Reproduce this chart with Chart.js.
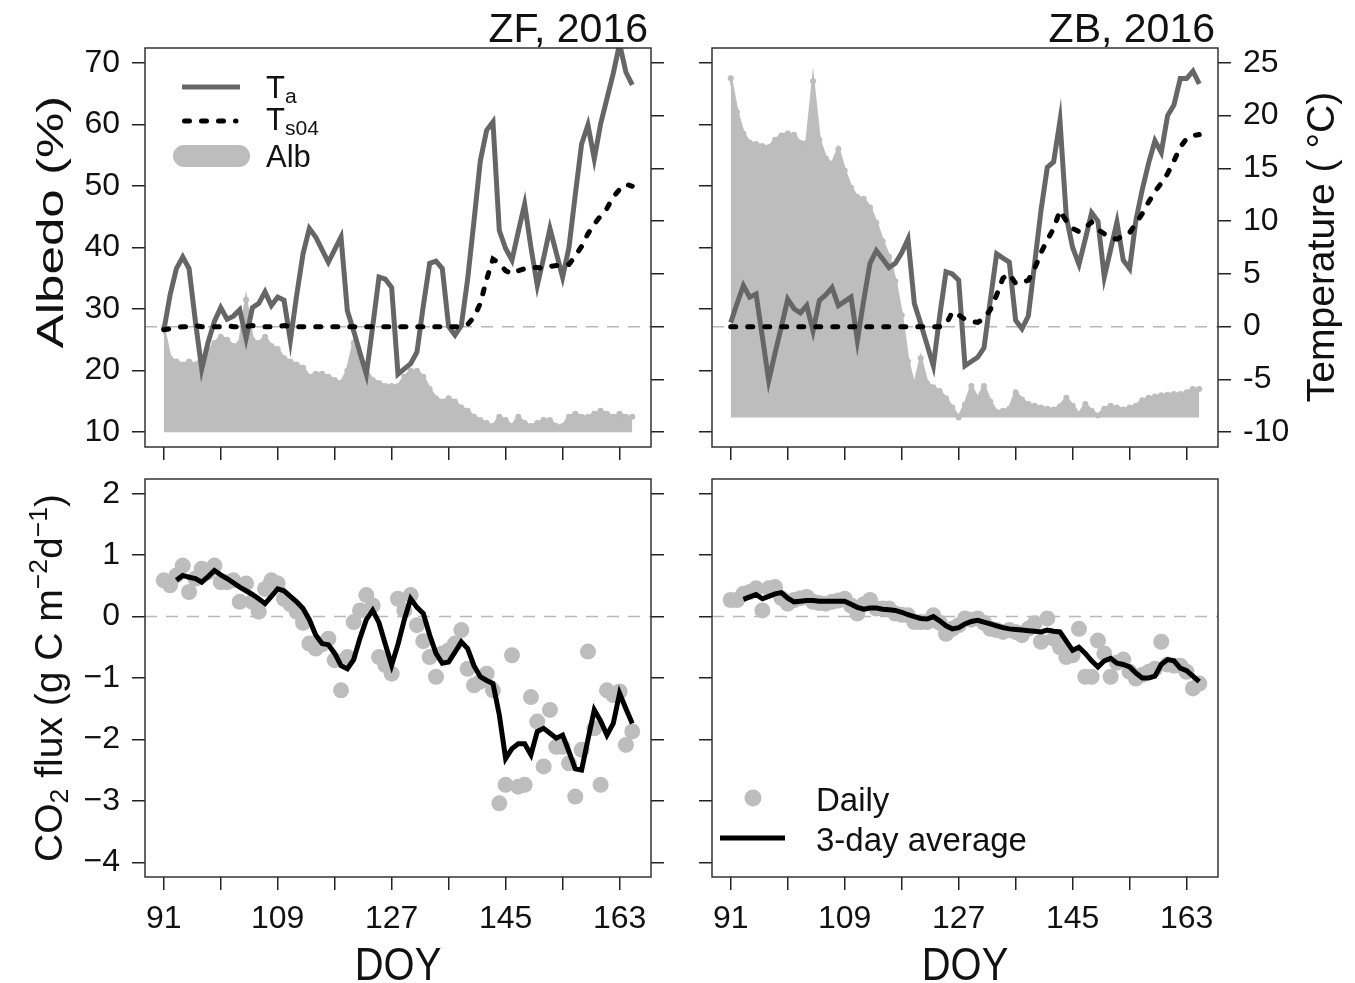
<!DOCTYPE html>
<html>
<head>
<meta charset="utf-8">
<title>ZF / ZB 2016</title>
<script src="https://cdn.jsdelivr.net/npm/chart.js@4.4.1/dist/chart.umd.min.js"></script>
<style>
  body { margin: 0; background: #fff; }
  #wrap { position: relative; width: 1355px; height: 983px; overflow: hidden;
          font-family: "Liberation Sans", Arial, sans-serif; color: #111; }
  canvas { position: absolute; left: 0; top: 0; }
  .t { position: absolute; white-space: nowrap; line-height: 1; }
  .sub { font-size: 0.68em; position: relative; top: 0.22em; }
  .sup { font-size: 0.68em; position: relative; top: -0.55em; }
</style>
</head>
<body>
<div id="wrap">
  <canvas id="zfTop" width="1355" height="983"></canvas>
  <canvas id="zbTop" width="1355" height="983"></canvas>
  <canvas id="zfFlux" width="1355" height="983"></canvas>
  <canvas id="zbFlux" width="1355" height="983"></canvas>

  <svg style="position:absolute;left:0;top:0" width="1355" height="983">
    <line x1="182" y1="87" x2="240" y2="87" stroke="#666" stroke-width="5"/>
    <line x1="184.5" y1="121" x2="236" y2="121" stroke="#000" stroke-width="5" stroke-dasharray="5 12" stroke-linecap="round"/>
    <rect x="173" y="145" width="77" height="22" rx="11" fill="#bdbdbd"/>
    <circle cx="753" cy="798" r="8.5" fill="#bdbdbd"/>
    <line x1="720" y1="838" x2="785" y2="838" stroke="#000" stroke-width="5"/>
  </svg>

  <div class="t" style="right:707px;top:8px;font-size:41px">ZF, 2016</div>
  <div class="t" style="right:140px;top:8px;font-size:41px">ZB, 2016</div>

  <div class="t" style="left:266px;top:72px;font-size:31px">T<span class="sub">a</span></div>
  <div class="t" style="left:266px;top:104px;font-size:31px">T<span class="sub">s04</span></div>
  <div class="t" style="left:266px;top:141px;font-size:31px">Alb</div>

  <div class="t" style="left:816px;top:783px;font-size:33px">Daily</div>
  <div class="t" style="left:816px;top:823px;font-size:33px">3-day average</div>

  <div class="t" style="left:50px;top:222px;font-size:37px;transform:translate(-50%,-50%) rotate(-90deg) scaleX(1.38)">Albedo (%)</div>
  <div class="t" style="left:1320px;top:247px;font-size:39px;transform:translate(-50%,-50%) rotate(-90deg)">Temperature ( °C)</div>
  <div class="t" style="left:48px;top:678px;font-size:39px;transform:translate(-50%,-50%) rotate(-90deg)">CO<span class="sub">2</span> flux (g C m<span class="sup">−2</span>d<span class="sup">−1</span>)</div>
  <div class="t" style="left:398px;top:963px;font-size:47px;transform:translate(-50%,-50%) scaleX(0.85)">DOY</div>
  <div class="t" style="left:965px;top:963px;font-size:47px;transform:translate(-50%,-50%) scaleX(0.85)">DOY</div>
</div>

<script>
// day of year, 91 .. 165
const doy = [];
for (let d = 91; d <= 165; d++) doy.push(d);

// ZF site
const zfTa = [-0.4, 3, 5.5, 6.6, 5.5, 0.5, -4, -1.5, 0.5, 1.8,
  0.7, 1.0, 1.6, -1.1, 1.8, 2.2, 3.3, 2.0, 2.8, 2.5,
  -1.3, 3, 6.9, 9.3, 8.5, 7.3, 6.1, 7.3, 8.5, 1.5,
  -0.4, -2.5, -4.5, 0, 4.7, 4.5, 3.7, -4.5, -4, -3.5,
  -2.4, 2, 6.0, 6.2, 5.5, 0, -0.8, 0.1, 4.5, 10,
  15.7, 18.6, 19.4, 9.1, 7.4, 6.3, 9, 11.6, 7.5, 3.9,
  6.5, 9.3, 7, 4.7, 7.5, 12.5, 17.3, 19.1, 15.9, 19.2,
  21.6, 24, 26.8, 24.1, 22.9];
const zfTs04 = [-0.3, -0.2, -0.1, 0, 0, 0.1, 0, 0, 0, 0,
  0.1, 0, 0, 0, 0.1, 0, 0, 0, 0, 0.1,
  0, 0, 0, 0, 0, 0, 0, 0, 0, 0,
  0, 0, 0, 0, 0, 0, 0, 0, 0, 0,
  0, 0, 0, 0, 0, 0, 0, 0, 0.2, 0.9,
  2.2, 4.5, 6.4, 6.0, 5.3, 5.0, 5.3, 5.5, 5.6, 5.6,
  5.5, 5.7, 5.8, 5.8, 5.9, 6.7, 7.6, 8.8, 9.7, 10.5,
  11.2, 12.3, 13.0, 13.5, 13.3];
const zfAlb = [27, 22, 21.5, 21, 21.5, 21, 22, 23, 24.5, 25.5,
  25, 24, 24.5, 31.5, 25, 24.5, 25.5, 24, 23.5, 22,
  21.5, 21, 20.5, 19, 19.5, 19.5, 19, 18.5, 18, 20,
  24.5, 22, 20, 18.5, 18, 17.5, 17.5, 17.5, 19, 20,
  20, 19, 17, 15.5, 15, 15.5, 15, 14, 13.5, 12.5,
  12, 11.5, 11, 12.5, 12, 11, 12.5, 11.5, 11, 11.5,
  12, 12, 11, 11, 12.5, 13, 12.5, 12.5, 13, 13.5,
  13, 12.5, 13, 12.5, 12.5];
const zfDaily = [0.59, 0.51, 0.67, 0.83, 0.40, 0.62, 0.78, 0.72, 0.83, 0.56,
  0.56, 0.59, 0.24, 0.54, 0.24, 0.08, 0.45, 0.59, 0.54, 0.29,
  0.2, 0.08, -0.1, -0.44, -0.52, -0.45, -0.36, -0.71, -1.2, -0.66,
  -0.09, 0.1, 0.35, 0.18, -0.66, -0.79, -0.93, 0.29, 0.1, 0.35,
  -0.14, -0.4, -0.66, -0.98, -0.6, -0.55, -0.44, -0.22, -0.85, -1.12,
  -1.06, -0.93, -1.2, -3.04, -2.74, -0.63, -2.77, -2.74, -1.31, -1.71,
  -2.44, -1.52, -2.12, -2.12, -2.39, -2.93, -2.17, -0.57, -1.82, -2.74,
  -1.2, -1.28, -1.22, -2.09, -1.87];
const zfAvg3 = [null, null, 0.59, 0.67, 0.64, 0.62, 0.56, 0.65, 0.75, 0.68,
  0.62, 0.55, 0.48, 0.42, 0.36, 0.29, 0.21, 0.33, 0.45, 0.42,
  0.33, 0.24, 0.13, -0.05, -0.3, -0.44, -0.46, -0.6, -0.8, -0.85,
  -0.7, -0.35, -0.05, 0.1, -0.1, -0.45, -0.79, -0.45, -0.05, 0.29,
  0.15, 0.05, -0.3, -0.6, -0.76, -0.74, -0.58, -0.41, -0.52, -0.8,
  -0.98, -1.04, -1.09, -1.6, -2.31, -2.15, -2.07, -2.07, -2.25, -1.87,
  -1.82, -1.9, -1.98, -1.93, -2.2, -2.48, -2.5, -2.0, -1.52, -1.7,
  -1.93, -1.74, -1.25, -1.5, -1.74];

// ZB site
const zbTa = [0.4, 2.2, 3.9, 2.8, 3.1, -1, -5.1, -2.5, 0, 2.6,
  1.7, 1.3, 2.0, -0.4, 2.5, 3.0, 3.7, 2.0, 2.4, 2.8,
  -1.3, 2.5, 6, 7.2, 6.4, 5.6, 6, 7, 8.3, 2.2,
  0.3, -1.7, -3.7, 1, 5.2, 5, 4.4, -3.7, -3.3, -2.9,
  -2.0, 2.5, 6.9, 6.5, 6.1, 0.6, -0.2, 1.0, 6, 11,
  15.1, 15.6, 19.5, 10.4, 7.5, 5.9, 8.3, 10.8, 10, 4.7,
  7.3, 9.9, 6.3, 5.5, 10.1, 13, 15.5, 17.6, 16.5, 20,
  21, 23.5, 23.5, 24.2, 23];
const zbTs04 = [0, 0, 0, 0, 0, 0, 0, 0, 0, 0,
  0, 0, 0, 0, 0, 0, 0, 0, 0, 0,
  0, 0, 0, 0, 0, 0, 0, 0, 0, 0,
  0, 0, 0, 0, 0.2, 1.4, 1.1, 0.7, 0.5, 0.4,
  0.8, 1.6, 3.0, 4.6, 5.0, 4.1, 4.2, 4.4, 5.5, 7.0,
  8.2, 9.3, 11, 10, 9.3, 9.0, 9.4, 9.9, 9.2, 8.8,
  8.4, 8.3, 8.6, 8.9, 9.8, 10.7, 11.8, 12.8, 13.6, 14.5,
  15.7, 17, 17.8, 18.1, 18.2];
const zbAlb = [67.5, 62, 58.5, 57, 56.8, 56.5, 56.3, 57.5, 58.2, 58.5,
  58.3, 57, 57, 67, 57.5, 54.5, 53.6, 56, 52.5, 49.7,
  48.2, 47.9, 46.5, 44, 41, 38.5, 34.5, 29, 21.5, 17.5,
  22, 18, 17.3, 16.7, 15.5, 14, 12.4, 14.5, 17.5, 15.4,
  17.5, 15, 13.3, 13.5, 13.8, 16.5, 15.3, 14.6, 14.3, 14,
  13.8, 13.7, 14.2, 15.6, 14.3, 12.9, 14.6, 13.5, 12.7, 13.8,
  14.3, 14, 13.7, 14, 14.3, 15.2, 15.6, 15.8, 16, 16.1,
  16.2, 16.2, 16.5, 17, 17];
const zbDaily = [0.27, 0.27, 0.37, 0.40, 0.46, 0.10, 0.46, 0.48, 0.30, 0.21,
  0.27, 0.30, 0.32, 0.24, 0.22, 0.21, 0.24, 0.26, 0.29, 0.18,
  0.05, 0.2, 0.27, 0.13, 0.13, 0.13, 0.05, 0.03, 0.02, -0.09,
  -0.09, -0.09, 0.02, -0.1, -0.28, -0.2, -0.14, -0.03, -0.05, -0.03,
  -0.1, -0.2, -0.22, -0.25, -0.22, -0.25, -0.3, -0.2, -0.11, -0.41,
  -0.03, -0.36, -0.5, -0.66, -0.63, -0.2, -0.98, -0.98, -0.39, -0.6,
  -0.98, -0.75, -0.7, -0.9, -1.01, -0.95, -0.9, -0.85, -0.41, -0.78,
  -0.8, -0.8, -0.9, -1.17, -1.09];
const zbAvg3 = [null, null, 0.28, 0.32, 0.36, 0.29, 0.33, 0.37, 0.39, 0.3,
  0.24, 0.25, 0.26, 0.26, 0.25, 0.25, 0.25, 0.25, 0.25, 0.2,
  0.15, 0.12, 0.14, 0.14, 0.12, 0.11, 0.1, 0.07, 0.03, 0.0,
  -0.03, -0.04, 0.0, -0.07, -0.15, -0.2, -0.18, -0.12, -0.08, -0.06,
  -0.09, -0.12, -0.15, -0.18, -0.2, -0.21, -0.22, -0.23, -0.24, -0.25,
  -0.22, -0.24, -0.25, -0.4, -0.55, -0.5, -0.6, -0.72, -0.82, -0.72,
  -0.68, -0.76, -0.78, -0.82, -0.92, -1.0, -1.0, -0.97, -0.78, -0.7,
  -0.72, -0.84, -0.88, -0.97, -1.06];

// axes
const doyTicks = [91, 100, 109, 118, 127, 136, 145, 154, 163];
const doyLabels = [91, 109, 127, 145, 163];
const albTicks = [10, 20, 30, 40, 50, 60, 70];
const tempTicks = [-10, -5, 0, 5, 10, 15, 20, 25];
const fluxTicks = [-4, -3, -2, -1, 0, 1, 2];

const X_MIN = 88.04, X_MAX = 167.96;
const Y_W = 100, X_H = 70;
const FONT = { family: '"Liberation Sans", Arial, sans-serif', size: 32 };

function pts(vals) {
  return vals.map((v, i) => ({ x: doy[i], y: v }));
}

function tickGrid() {
  return { drawOnChartArea: false, drawTicks: true, tickLength: 13, color: '#222', lineWidth: 1.5 };
}

function yAxis(pos, min, max, ticks, showLabels, fmt) {
  return {
    type: 'linear', position: pos, min: min, max: max,
    afterBuildTicks: s => { s.ticks = ticks.map(v => ({ value: v })); },
    afterFit: s => { s.width = Y_W; },
    ticks: { display: showLabels, font: FONT, color: '#111', padding: 12,
             callback: fmt || (v => String(v)) },
    grid: tickGrid(),
    border: { display: false }
  };
}

// flux axis is labelled with a true minus sign
const minusFmt = v => String(v).replace('-', '\u2212');

function xAxis(showLabels) {
  return {
    type: 'linear', position: 'bottom', min: X_MIN, max: X_MAX,
    afterBuildTicks: s => { s.ticks = doyTicks.map(v => ({ value: v })); },
    afterFit: s => { s.height = X_H; },
    ticks: {
      display: showLabels, font: FONT, color: '#111', padding: 10,
      autoSkip: false, maxRotation: 0,
      callback: v => doyLabels.includes(v) ? String(v) : ''
    },
    grid: tickGrid(),
    border: { display: false }
  };
}

const boxPlugin = {
  id: 'box',
  afterDraw(chart) {
    const a = chart.chartArea, ctx = chart.ctx;
    ctx.save();
    ctx.strokeStyle = '#333';
    ctx.lineWidth = 1.5;
    ctx.strokeRect(a.left, a.top, a.right - a.left, a.bottom - a.top);
    ctx.restore();
  }
};

function zeroLine(axisId) {
  return {
    data: [{ x: X_MIN, y: 0 }, { x: X_MAX, y: 0 }], yAxisID: axisId,
    borderColor: '#b8b8b8', borderWidth: 1.5, borderDash: [12, 9],
    pointRadius: 0, order: 3
  };
}

function makeChart(id, rect, datasets, scales, hasRight) {
  new Chart(document.getElementById(id), {
    type: 'line',
    data: { datasets: datasets },
    options: {
      responsive: false, animation: false, events: [],
      layout: { padding: {
        left: rect[0] - Y_W,
        top: rect[1],
        right: 1355 - rect[2] - (hasRight ? Y_W : 0),
        bottom: 983 - rect[3] - X_H
      } },
      plugins: { legend: { display: false }, tooltip: { enabled: false } },
      scales: scales
    },
    plugins: [boxPlugin]
  });
}

function topSets(ta, ts, alb, albBase) {
  return [
    { data: pts(alb), yAxisID: 'y', fill: { value: albBase },
      backgroundColor: '#bdbdbd', borderColor: '#bdbdbd', borderWidth: 3,
      pointRadius: 3, pointBackgroundColor: '#bdbdbd', pointBorderWidth: 0, order: 4 },
    zeroLine('y2'),
    { data: pts(ta), yAxisID: 'y2', borderColor: '#666', borderWidth: 5,
      pointRadius: 0, order: 2 },
    { data: pts(ts), yAxisID: 'y2', borderColor: '#000', borderWidth: 5,
      borderDash: [5, 12], borderCapStyle: 'round', pointRadius: 0, order: 1 }
  ];
}

function fluxSets(daily, avg) {
  return [
    zeroLine('y'),
    { data: pts(daily), yAxisID: 'y', showLine: false,
      pointRadius: 8, pointBackgroundColor: '#bdbdbd', pointBorderWidth: 0, order: 2 },
    { data: pts(avg), yAxisID: 'y', borderColor: '#000', borderWidth: 5,
      pointRadius: 0, spanGaps: false, order: 1 }
  ];
}

makeChart('zfTop', [145, 48, 651, 447], topSets(zfTa, zfTs04, zfAlb, 10), {
  x: xAxis(false),
  y: yAxis('left', 7.6, 72.4, albTicks, true),
  y2: yAxis('right', -11.4, 26.4, tempTicks, false)
}, true);

makeChart('zbTop', [712, 48, 1218, 447], topSets(zbTa, zbTs04, zbAlb, 12.4), {
  x: xAxis(false),
  y: yAxis('left', 7.6, 72.4, albTicks, false),
  y2: yAxis('right', -11.4, 26.4, tempTicks, true)
}, true);

makeChart('zfFlux', [145, 479, 651, 877], fluxSets(zfDaily, zfAvg3), {
  x: xAxis(true),
  y: yAxis('left', -4.24, 2.24, fluxTicks, true, minusFmt),
  y2: yAxis('right', -4.24, 2.24, fluxTicks, false)
}, true);

makeChart('zbFlux', [712, 479, 1218, 877], fluxSets(zbDaily, zbAvg3), {
  x: xAxis(true),
  y: yAxis('left', -4.24, 2.24, fluxTicks, false)
}, false);
</script>
</body>
</html>
